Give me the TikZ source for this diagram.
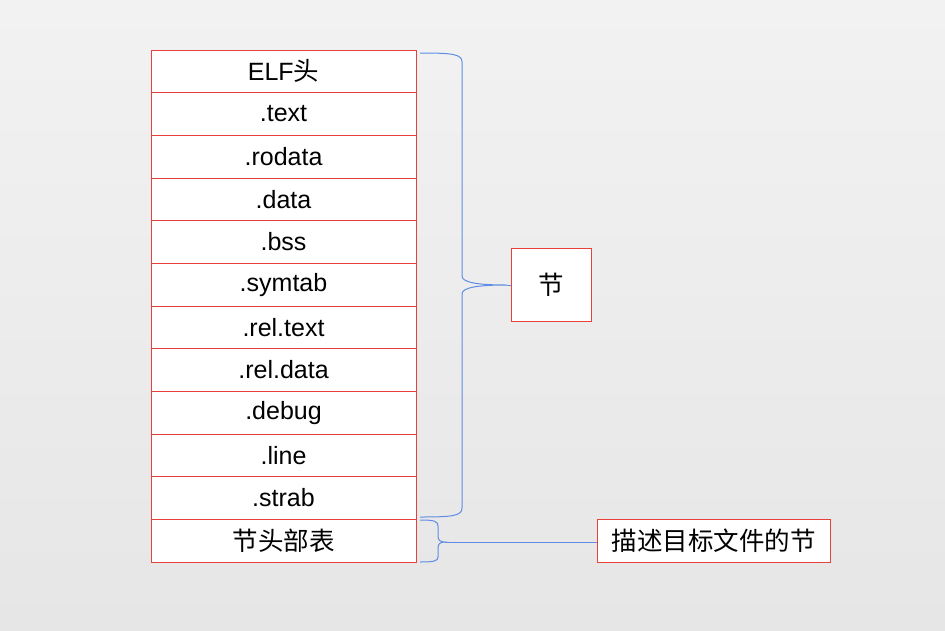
\documentclass[tikz,border=0pt]{standalone}
\usepackage{fontspec}
\setmainfont{Liberation Sans}
\newfontfamily\cjk{Noto Sans CJK SC}
\definecolor{boxred}{RGB}{232,64,58}
\definecolor{bracebl}{RGB}{95,140,228}
\definecolor{bgtop}{RGB}{242,242,242}
\definecolor{bgbot}{RGB}{231,230,231}
\begin{document}
\begin{tikzpicture}[x=1pt,y=-1pt,
  rowbox/.style={draw=boxred,fill=white,line width=0.8pt,minimum width=265pt,minimum height=42.67pt,inner sep=0pt,font=\fontsize{25}{27}\selectfont},
  labelbox/.style={draw=boxred,fill=white,line width=0.8pt,inner sep=0pt,font=\fontsize{25.5}{27}\selectfont\cjk},
  brace/.style={draw=bracebl,line width=1pt}]
\shade[top color=bgtop,bottom color=bgbot] (0,0) rectangle (945,630);
\useasboundingbox (0,0) rectangle (945,630);
\foreach \i/\t in {1/{ELF{\fontsize{25.5}{27}\selectfont\cjk 头}},2/.text,3/.rodata,4/.data,5/.bss,6/.symtab,7/.rel.text,8/.rel.data,9/.debug,10/.line,11/.strab,12/{{\fontsize{25.5}{27}\selectfont\cjk 节头部表}}}{
  \node[rowbox] (r\i) at (283.5,{50+42.67*(\i-0.5)}) {\t};
}
\node[labelbox,minimum width=80pt,minimum height=73pt] (sec) at (551,284.5) {节};
\node[labelbox,minimum width=233pt,minimum height=43pt] (desc) at (713.5,540.5) {描述目标文件的节};
% brace 1
\coordinate (t1) at (507,285);
\draw[brace] (420,53) .. controls (452,53) and (462,54) .. (462,62) -- (462,276)
  .. controls (462,283) and (480,285) .. (t1)
  .. controls (480,285) and (462,287) .. (462,294) -- (462,508)
  .. controls (462,516) and (452,517) .. (420,517);
\draw[brace] (t1) -- (t1 -| sec.west);
% brace 2
\coordinate (t2) at (445,542);
\draw[brace] (420,520) .. controls (434,520) and (438,521) .. (438,526) -- (438,536)
  .. controls (438,540) and (440,542) .. (t2)
  .. controls (440,542) and (438,544) .. (438,548) -- (438,557)
  .. controls (438,561) and (434,562) .. (420,562);
\draw[brace,line width=0.8pt] (t2) -- (t2 -| desc.west);
\end{tikzpicture}
\end{document}
